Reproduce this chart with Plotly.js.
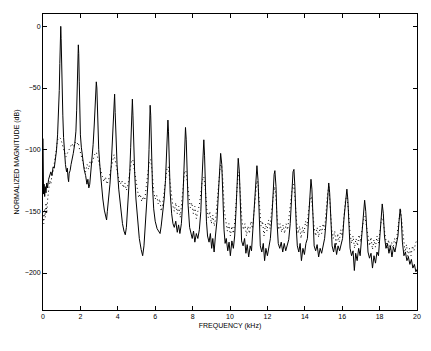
<!DOCTYPE html>
<html>
<head>
<meta charset="utf-8">
<script src="https://cdn.plot.ly/plotly-3.0.1.min.js"></script>
<style>html,body{margin:0;padding:0;background:#fff;}#plot{width:431px;height:351px;}</style>
</head>
<body>
<div id="plot"></div>
<script>
// Solid spectrum (frequency in kHz, magnitude in dB)
const solidFreq = [0,0.01,0.03,0.06,0.09,0.12,0.16,0.2,0.24,0.3,0.36,0.42,0.48,0.54,0.6,0.66,0.72,0.78,0.83,0.87,0.9,0.93,0.95,0.97,0.99,1.02,1.06,1.1,1.15,1.2,1.26,1.3,1.34,1.37,1.4,1.45,1.5,
1.56,1.62,1.7,1.76,1.8,1.84,1.87,1.89,1.91,1.94,1.97,2.0,2.05,2.12,2.2,2.28,2.35,2.4,2.45,2.5,2.56,2.62,2.68,2.74,2.79,2.83,2.85,2.88,2.9,2.94,2.98,3.05,3.12,3.2,3.28,3.35,3.4,3.44,3.5,3.58,3.65,3.72,3.77,3.8,3.83,3.86,3.9,3.96,4.05,4.15,4.25,4.33,4.4,4.46,4.52,4.58,4.64,4.69,4.73,4.76,4.78,4.81,4.85,4.9,4.97,5.05,5.15,5.25,5.33,5.4,5.48,5.56,5.62,5.67,5.7,5.73,5.76,5.8,5.85,5.92,6.0,6.1,6.2,6.26,6.32,6.4,6.48,6.55,6.6,6.64,6.68,6.71,6.75,6.8,6.88,6.95,7.02,7.1,7.18,7.25,7.32,7.4,7.48,7.54,7.58,7.62,7.66,7.7,7.76,7.84,7.9,7.98,8.05,8.12,8.2,8.28,8.36,8.44,8.5,8.55,8.6,8.64,8.68,8.74,8.8,8.88,8.95,9.02,9.08,9.15,9.22,9.3,9.38,9.45,9.5,9.56,9.62,9.68,9.74,9.8,9.88,9.95,10.02,10.1,10.18,10.25,10.32,10.38,10.44,10.5,10.56,10.62,10.7,10.78,10.85,10.92,11.0,11.08,11.15,11.22,11.3,11.38,11.44,11.5,11.56,11.62,11.7,11.78,11.85,11.92,12.0,12.08,12.16,12.24,12.3,12.36,12.4,12.46,12.52,12.58,12.66,12.74,12.82,12.9,12.98,13.06,13.14,13.22,13.3,13.37,13.42,13.47,13.55,13.6,13.68,13.75,13.82,13.9,13.98,14.06,14.14,14.2,14.27,14.33,14.38,14.44,14.5,14.58,14.66,14.74,14.82,14.9,14.98,15.06,15.14,15.22,15.28,15.33,15.4,15.46,15.54,15.62,15.7,15.78,15.86,15.94,16.02,16.1,16.18,16.25,16.3,16.36,16.42,16.5,16.58,16.65,16.72,16.8,16.88,16.96,17.04,17.12,17.2,17.26,17.32,17.38,17.46,17.54,17.62,17.7,17.78,17.86,17.94,18.0,18.07,18.14,18.2,18.26,18.34,18.42,18.5,18.58,18.66,18.74,18.82,18.9,18.98,19.04,19.1,19.16,19.22,19.3,19.38,19.46,19.54,19.62,19.7,19.78,19.86,19.94,20];
const solidDb = [-91,-118,-136,-128,-138,-130,-135,-127,-131,-124,-121,-118,-121,-114,-115,-108,-101,-88,-72,-52,-30,-8,0,-10,-30,-52,-72,-90,-104,-112,-118,-115,-123,-126,-119,-117,-112,
-108,-103,-95,-85,-68,-45,-25,-15,-22,-45,-70,-88,-98,-108,-116,-121,-128,-124,-131,-128,-118,-108,-96,-80,-62,-58,-45,-50,-62,-85,-100,-115,-128,-140,-149,-153,-157,-150,-142,-128,-112,-90,-72,-62,-55,-70,-92,-112,-132,-148,-160,-166,-169,-163,-150,-135,-118,-98,-78,-64,-59,-72,-95,-118,-140,-157,-172,-181,-186,-178,-160,-142,-125,-100,-80,-64,-72,-100,-128,-148,-158,-164,-166,-168,-162,-152,-140,-125,-105,-88,-76,-85,-110,-135,-152,-160,-163,-158,-167,-161,-168,-160,-140,-115,-95,-82,-92,-120,-145,-163,-168,-172,-166,-175,-168,-172,-165,-150,-125,-105,-92,-105,-130,-158,-170,-175,-168,-180,-172,-183,-170,-158,-135,-115,-103,-112,-140,-165,-176,-172,-182,-175,-186,-174,-180,-170,-150,-128,-107,-118,-150,-174,-178,-172,-184,-177,-187,-178,-182,-165,-145,-125,-113,-125,-155,-178,-183,-176,-190,-180,-186,-178,-172,-155,-135,-120,-117,-130,-160,-176,-180,-175,-183,-176,-182,-178,-173,-160,-138,-118,-116,-130,-165,-178,-183,-176,-190,-180,-185,-176,-172,-155,-135,-124,-132,-160,-178,-182,-177,-187,-180,-184,-177,-172,-158,-138,-127,-135,-162,-178,-183,-176,-185,-178,-182,-176,-172,-155,-140,-132,-140,-165,-180,-186,-182,-198,-184,-190,-180,-186,-172,-155,-141,-150,-170,-183,-188,-184,-196,-186,-192,-183,-186,-175,-158,-144,-152,-170,-180,-176,-184,-178,-187,-179,-183,-176,-170,-158,-148,-156,-175,-186,-183,-190,-187,-193,-189,-196,-193,-199,-197];

// Dotted spectrum
const dotFreq = [0,0.04,0.08,0.12,0.16,0.2,0.25,0.3,0.36,0.42,0.48,0.55,0.62,0.7,0.78,0.86,0.94,1.0,1.08,1.15,1.22,1.3,1.38,1.46,1.55,1.63,1.72,1.8,1.88,1.96,2.05,2.12,2.2,2.28,2.36,2.44,2.52,2.6,2.68,2.76,2.85,2.94,3.02,3.1,3.18,3.26,3.34,3.42,3.5,3.6,3.7,3.8,3.88,3.96,4.05,4.14,4.22,4.3,4.38,4.46,4.55,4.64,4.72,4.8,4.88,4.96,5.04,5.12,5.2,5.28,5.36,5.44,5.52,5.6,5.68,5.76,5.84,5.92,6.0,6.08,6.16,6.24,6.32,6.4,6.48,6.56,6.64,6.7,6.78,6.86,6.94,7.02,7.1,7.18,7.26,7.34,7.42,7.5,7.57,7.64,7.72,7.8,7.88,7.96,8.04,8.12,8.2,8.28,8.36,8.44,8.52,8.6,8.68,8.76,8.84,8.92,9.0,9.08,9.16,9.24,9.32,9.4,9.48,9.55,9.62,9.7,9.78,9.86,9.94,10.02,10.1,10.18,10.26,10.34,10.42,10.48,10.56,10.64,10.72,10.8,10.88,10.96,11.04,11.12,11.2,11.28,11.36,11.44,11.5,11.58,11.66,11.74,11.82,11.9,11.98,12.06,12.14,12.22,12.3,12.38,12.44,12.52,12.6,12.68,12.76,12.84,12.92,13.0,13.08,13.16,13.24,13.32,13.4,13.48,13.56,13.64,13.72,13.8,13.88,13.96,14.04,14.12,14.2,14.28,14.35,14.42,14.5,14.58,14.66,14.74,14.82,14.9,14.98,15.06,15.14,15.22,15.29,15.36,15.44,15.52,15.6,15.68,15.76,15.84,15.92,16.0,16.08,16.18,16.26,16.34,16.42,16.5,16.58,16.66,16.74,16.82,16.9,16.98,17.06,17.14,17.22,17.3,17.38,17.46,17.54,17.62,17.7,17.78,17.86,17.94,18.02,18.1,18.16,18.24,18.32,18.4,18.48,18.56,18.64,18.72,18.8,18.88,18.96,19.04,19.12,19.2,19.28,19.36,19.44,19.52,19.6,19.68,19.76,19.84,19.92,20];
const dotDb = [-150,-160,-148,-155,-143,-152,-140,-132,-125,-128,-120,-117,-108,-98,-92,-90,-91,-94,-98,-102,-106,-103,-100,-97,-95,-98,-94,-96,-94,-100,-106,-110,-114,-118,-112,-116,-109,-112,-108,-104,-102,-108,-113,-118,-122,-126,-122,-128,-125,-118,-110,-104,-110,-118,-124,-128,-125,-131,-127,-133,-128,-118,-110,-108,-116,-126,-135,-139,-136,-142,-138,-141,-130,-118,-110,-108,-118,-134,-140,-137,-144,-140,-150,-144,-133,-122,-114,-114,-125,-138,-145,-150,-143,-152,-146,-155,-140,-128,-118,-117,-128,-140,-147,-143,-152,-146,-156,-150,-145,-135,-125,-122,-132,-148,-155,-150,-160,-153,-162,-155,-140,-125,-113,-112,-125,-150,-158,-166,-160,-170,-162,-168,-158,-140,-122,-118,-135,-158,-165,-160,-170,-162,-168,-158,-164,-150,-135,-125,-128,-150,-162,-158,-170,-160,-166,-157,-164,-150,-138,-130,-135,-155,-165,-160,-167,-161,-168,-160,-165,-155,-142,-132,-128,-140,-158,-168,-162,-172,-163,-168,-158,-162,-150,-140,-138,-150,-163,-170,-163,-171,-162,-168,-160,-165,-150,-135,-130,-145,-165,-172,-166,-178,-168,-175,-165,-170,-155,-140,-138,-150,-168,-176,-170,-180,-172,-178,-169,-175,-165,-157,-154,-162,-172,-178,-171,-181,-173,-179,-170,-176,-166,-156,-155,-165,-175,-180,-173,-181,-175,-180,-172,-177,-166,-155,-148,-160,-175,-183,-177,-188,-180,-186,-178,-182,-176,-173];

const xTickVals = [0,2,4,6,8,10,12,14,16,18,20];
const yTickVals = [-200,-150,-100,-50,0];

const font = {family: 'Liberation Sans, Arial, Helvetica, sans-serif', size: 7, color: '#000'};

const traces = [
  {x: dotFreq, y: dotDb, type: 'scatter', mode: 'lines', line: {color: '#000', width: 1, dash: '1px,3px'}, hoverinfo: 'skip'},
  {x: solidFreq, y: solidDb, type: 'scatter', mode: 'lines', line: {color: '#000', width: 1}, hoverinfo: 'skip'}
];

const layout = {
  width: 431, height: 351,
  margin: {l: 43, r: 14, t: 14, b: 41, pad: 0},
  paper_bgcolor: '#fff', plot_bgcolor: '#fff',
  showlegend: false,
  font: font,
  xaxis: {
    range: [0, 20], tickvals: xTickVals, ticktext: xTickVals.map(String),
    ticks: 'inside', ticklen: 4, tickcolor: '#000', tickwidth: 1,
    showline: true, linecolor: '#000', linewidth: 1, mirror: 'ticks',
    showgrid: false, zeroline: false, tickfont: font,
    title: {text: 'FREQUENCY (kHz)', font: font, standoff: 3}
  },
  yaxis: {
    range: [-230, 10], tickvals: yTickVals,
    ticks: 'inside', ticklen: 4, tickcolor: '#000', tickwidth: 1,
    showline: true, linecolor: '#000', linewidth: 1, mirror: 'ticks',
    showgrid: false, zeroline: false, tickfont: font,
    title: {text: 'NORMALIZED MAGNITUDE (dB)', font: font, standoff: 4}
  }
};

Plotly.newPlot('plot', traces, layout, {staticPlot: true, displayModeBar: false});
</script>
</body>
</html>
